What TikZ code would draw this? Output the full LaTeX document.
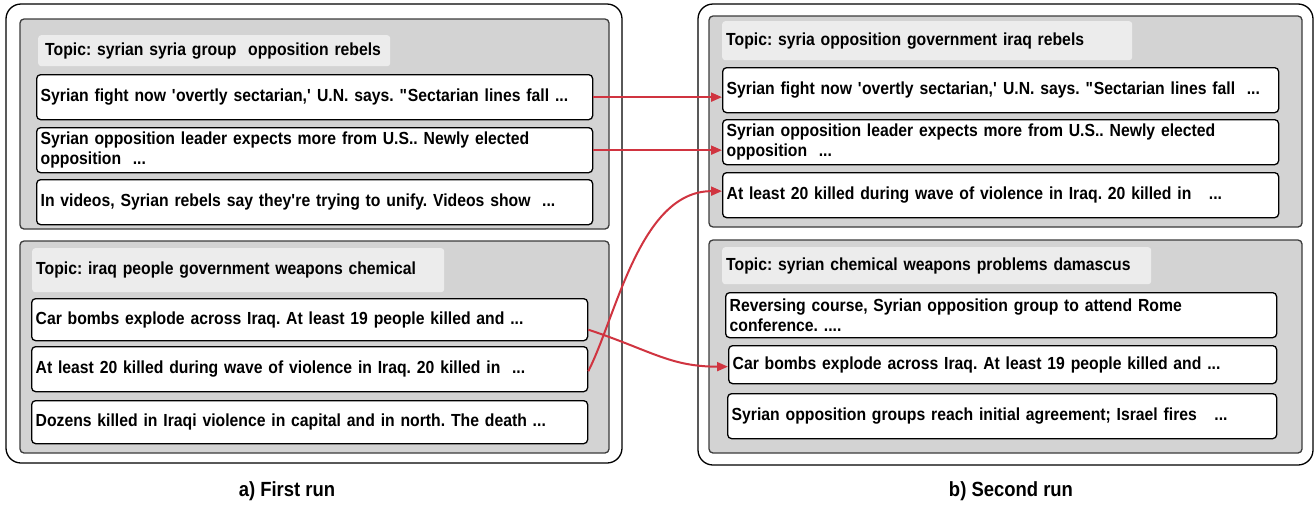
\documentclass[tikz,border=0pt]{standalone}
\usepackage{fontspec}
\setmainfont{Liberation Sans}[FakeStretch=0.9]
\usetikzlibrary{arrows.meta,calc}
\definecolor{linkred}{RGB}{208,52,64}
\definecolor{panelgray}{RGB}{211,211,211}
\definecolor{topicgray}{RGB}{236,236,236}
\definecolor{panelline}{RGB}{60,60,60}
\frenchspacing
\tikzset{
  outerbox/.style={draw=black, line width=1.3pt, rounded corners=15pt, fill=white},
  panel/.style={draw=panelline, line width=1.3pt, rounded corners=4pt, fill=panelgray},
  topic/.style={fill=topicgray, rounded corners=3pt, anchor=north west, inner xsep=4pt, inner ysep=0pt,
    align=left, font=\fontsize{17.5}{20}\selectfont\bfseries\frenchspacing},
  doc/.style={draw=black, line width=1.3pt, rounded corners=4pt, fill=white, anchor=north west,
    inner xsep=4pt, inner ysep=0pt, align=left, font=\fontsize{17.5}{20}\selectfont\bfseries\frenchspacing},
  link/.style={draw=linkred, line width=2pt, -{Triangle[length=11pt,width=9pt]}},
  caption/.style={font=\fontsize{20.5}{24}\selectfont\bfseries}
}
\newcommand{\q}{\textquotesingle}
\newcommand{\qq}{\textquotedbl}
\begin{document}
\begin{tikzpicture}[x=1pt,y=-1pt]
\useasboundingbox (0,0) rectangle (1315,504);
% outer frames
\draw[outerbox] (6,4) rectangle (622,463);
\draw[outerbox] (698,4) rectangle (1313,465);
% panels
\draw[panel] (20,19) rectangle (609,229);
\draw[panel] (20,241) rectangle (609,453);
\draw[panel] (709,16) rectangle (1302,227);
\draw[panel] (709,240) rectangle (1302,453);
% left top topic
\node[topic, inner xsep=7pt, minimum width=352pt, minimum height=31pt, text width=338pt] (lt1) at (38,35)
  {Topic: syrian syria group\ \ opposition rebels};
\node[doc, minimum width=556pt, minimum height=45pt, text width=548pt] (l1) at (36,74)
  {Syrian fight now \q overtly sectarian,\q{} U.N. says. \qq Sectarian lines fall ...};
\node[doc, minimum width=556pt, minimum height=45pt, text width=548pt] (l2) at (36,127)
  {Syrian opposition leader expects more from U.S.. Newly elected\\opposition\ \ ...};
\node[doc, minimum width=556pt, minimum height=45pt, text width=548pt] (l3) at (36,179)
  {In videos, Syrian rebels say they\q re trying to unify. Videos show\ \ ...};
% left bottom topic
\node[topic, minimum width=412pt, minimum height=44pt, text width=404pt] (lt2) at (32,248)
  {Topic: iraq people government weapons chemical};
\node[doc, minimum width=556pt, minimum height=42pt, text width=548pt] (l4) at (31,298)
  {Car bombs explode across Iraq. At least 19 people killed and ...};
\node[doc, minimum width=556pt, minimum height=45pt, text width=548pt] (l5) at (31,346)
  {At least 20 killed during wave of violence in Iraq. 20 killed in\ \ ...};
\node[doc, minimum width=556pt, minimum height=43pt, text width=548pt] (l6) at (31,400)
  {Dozens killed in Iraqi violence in capital and in north. The death ...};
% right top topic
\node[topic, minimum width=410pt, minimum height=39pt, text width=402pt] (rt1) at (722,21)
  {Topic: syria opposition government iraq rebels};
\node[doc, minimum width=556pt, minimum height=45pt, text width=548pt] (r1) at (722,67)
  {Syrian fight now \q overtly sectarian,\q{} U.N. says. \qq Sectarian lines fall\ \ ...};
\node[doc, minimum width=556pt, minimum height=45pt, text width=548pt] (r2) at (722,119)
  {Syrian opposition leader expects more from U.S.. Newly elected\\opposition\ \ ...};
\node[doc, minimum width=556pt, minimum height=45pt, text width=548pt] (r3) at (722,172)
  {At least 20 killed during wave of violence in Iraq. 20 killed in\ \ \ ...};
% right bottom topic
\node[topic, minimum width=429pt, minimum height=37pt, text width=421pt] (rt2) at (722,247)
  {Topic: syrian chemical weapons problems damascus};
\node[doc, minimum width=551pt, minimum height=45pt, text width=543pt] (r4) at (725,292)
  {Reversing course, Syrian opposition group to attend Rome\\conference. ....};
\node[doc, minimum width=548pt, minimum height=38pt, text width=540pt] (r5) at (728,345)
  {Car bombs explode across Iraq. At least 19 people killed and ...};
\node[doc, minimum width=549pt, minimum height=45pt, text width=541pt] (r6) at (727,393)
  {Syrian opposition groups reach initial agreement; Israel fires\ \ \ ...};
% links
\draw[link] (l1.east) -- (r1.west |- l1.east);
\draw[link] (l2.east) -- (r2.west |- l2.east);
\draw[link] ([yshift=-2pt]l5.east) .. controls ($(l5.east)+(28,-53)$) and ($(r3.west)+(-82,-4)$) .. ([yshift=4pt]r3.west);
\draw[link] ($(l4.east)+(0,10)$) .. controls ($(l4.east)+(63,31)$) and ($(r5.west)+(-58,2)$) .. ($(r5.west)+(0,2)$);
% captions
\node[caption] (ca) at (287,491) {a) First run};
\node[caption] (cb) at (1011,491) {b) Second run};
\end{tikzpicture}
\end{document}
